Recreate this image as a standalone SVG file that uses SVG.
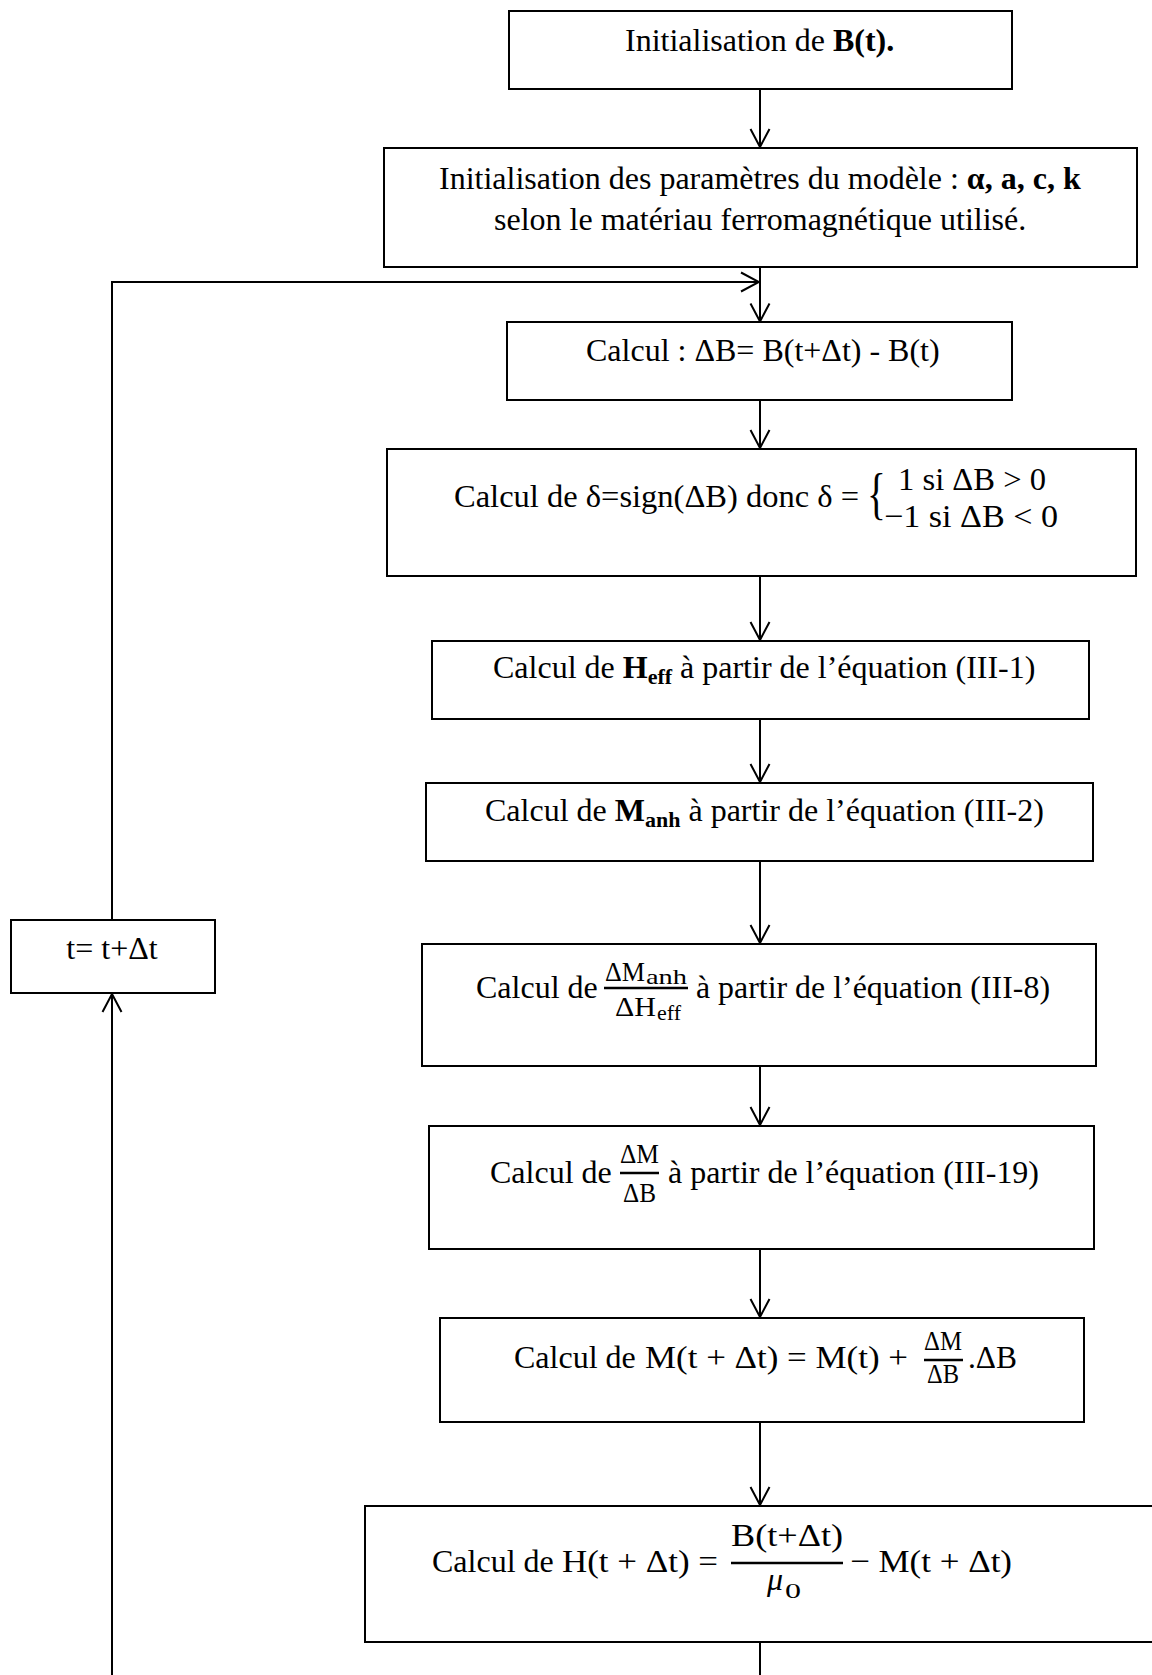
<svg xmlns="http://www.w3.org/2000/svg" width="1152" height="1675" viewBox="0 0 1152 1675">
  <style>
    .box { fill: #fff; stroke: #000; stroke-width: 2; }
    .ln { fill: none; stroke: #000; stroke-width: 2; }
    .bar { stroke: #000; stroke-width: 2.6; }
    text { font-family: "Liberation Serif", "Times New Roman", serif; font-size: 32px; fill: #000; }
    .b { font-weight: bold; }
    .num { font-size: 27px; }
    .sub { font-size: 22px; }
    .it { font-style: italic; }
    .brace { font-size: 56px; }
  </style>
  <defs>
    <marker id="arrow" markerUnits="userSpaceOnUse" viewBox="0 0 20 22" refX="19" refY="11" markerWidth="20" markerHeight="22" orient="auto">
      <path d="M1,1.5 L19,11 L1,20.5" fill="none" stroke="#000" stroke-width="2"/>
    </marker>
  </defs>

  <!-- connectors -->
  <g id="connectors">
    <path class="ln" d="M760,89 V147" marker-end="url(#arrow)"/>
    <path class="ln" d="M760,267 V321.5" marker-end="url(#arrow)"/>
    <path class="ln" d="M112,920 V282 H759" marker-end="url(#arrow)"/>
    <path class="ln" d="M760,400 V448" marker-end="url(#arrow)"/>
    <path class="ln" d="M760,576 V640" marker-end="url(#arrow)"/>
    <path class="ln" d="M760,719 V782" marker-end="url(#arrow)"/>
    <path class="ln" d="M760,861 V943" marker-end="url(#arrow)"/>
    <path class="ln" d="M760,1066 V1125" marker-end="url(#arrow)"/>
    <path class="ln" d="M760,1249 V1317" marker-end="url(#arrow)"/>
    <path class="ln" d="M760,1422 V1505" marker-end="url(#arrow)"/>
    <path class="ln" d="M760,1642 V1675"/>
    <path class="ln" d="M112,1675 V994" marker-end="url(#arrow)"/>
  </g>

  <!-- B(t) initialisation -->
  <g id="init-b">
    <rect class="box" x="509" y="11" width="503" height="78"/>
    <text x="625" y="51">Initialisation de <tspan class="b">B(t).</tspan></text>
  </g>

  <!-- model parameters -->
  <g id="init-params">
    <rect class="box" x="384" y="148" width="753" height="119"/>
    <text x="439" y="189">Initialisation des paramètres du modèle : <tspan class="b">α, a, c, k</tspan></text>
    <text x="494" y="230">selon le matériau ferromagnétique utilisé.</text>
  </g>

  <!-- delta B -->
  <g id="calc-db">
    <rect class="box" x="507" y="322" width="505" height="78"/>
    <text x="586" y="361">Calcul : ΔB= B(t+Δt) - B(t)</text>
  </g>

  <!-- sign of delta B -->
  <g id="calc-delta">
    <rect class="box" x="387" y="449" width="749" height="127"/>
    <text x="454" y="507" textLength="405" lengthAdjust="spacingAndGlyphs">Calcul de δ=sign(ΔB) donc δ =</text>
    <text class="brace" transform="translate(867,513) scale(0.7,1)">{</text>
    <text x="898" y="490" textLength="148" lengthAdjust="spacingAndGlyphs">1 si ΔB &gt; 0</text>
    <text x="884" y="527" textLength="174" lengthAdjust="spacingAndGlyphs">−1 si ΔB &lt; 0</text>
  </g>

  <!-- H_eff -->
  <g id="calc-heff">
    <rect class="box" x="432" y="641" width="657" height="78"/>
    <text x="493" y="678">Calcul de <tspan class="b">H</tspan><tspan class="b sub" dy="6">eff</tspan><tspan dy="-6"> à partir de l’équation (III-1)</tspan></text>
  </g>

  <!-- M_anh -->
  <g id="calc-manh">
    <rect class="box" x="426" y="783" width="667" height="78"/>
    <text x="485" y="821">Calcul de <tspan class="b">M</tspan><tspan class="b sub" dy="6">anh</tspan><tspan dy="-6"> à partir de l’équation (III-2)</tspan></text>
  </g>

  <!-- time step -->
  <g id="step-t">
    <rect class="box" x="11" y="920" width="204" height="73"/>
    <text x="112" y="959" text-anchor="middle">t= t+Δt</text>
  </g>

  <!-- dManh / dHeff -->
  <g id="calc-dmanh">
    <rect class="box" x="422" y="944" width="674" height="122"/>
    <text x="476" y="998">Calcul de</text>
    <text class="num" x="605" y="981" textLength="40" lengthAdjust="spacingAndGlyphs">ΔM</text>
    <text class="sub" x="646" y="984" textLength="41" lengthAdjust="spacingAndGlyphs">anh</text>
    <line class="bar" x1="604" y1="988" x2="688" y2="988"/>
    <text class="num" x="615" y="1016" textLength="41" lengthAdjust="spacingAndGlyphs">ΔH</text>
    <text class="sub" x="657" y="1020" textLength="24" lengthAdjust="spacingAndGlyphs">eff</text>
    <text x="696" y="998" textLength="354" lengthAdjust="spacingAndGlyphs">à partir de l’équation (III-8)</text>
  </g>

  <!-- dM / dB -->
  <g id="calc-dm">
    <rect class="box" x="429" y="1126" width="665" height="123"/>
    <text x="490" y="1183">Calcul de</text>
    <text class="num" x="620" y="1163" textLength="39" lengthAdjust="spacingAndGlyphs">ΔM</text>
    <line class="bar" x1="620" y1="1173" x2="659" y2="1173"/>
    <text class="num" x="623" y="1202" textLength="33" lengthAdjust="spacingAndGlyphs">ΔB</text>
    <text x="668" y="1183" textLength="371" lengthAdjust="spacingAndGlyphs">à partir de l’équation (III-19)</text>
  </g>

  <!-- M(t+dt) -->
  <g id="calc-m">
    <rect class="box" x="440" y="1318" width="644" height="104"/>
    <text x="514" y="1368">Calcul de</text>
    <text x="645" y="1368" textLength="263" lengthAdjust="spacingAndGlyphs">M(t + Δt) = M(t) +</text>
    <text class="num" x="924" y="1350" textLength="38" lengthAdjust="spacingAndGlyphs">ΔM</text>
    <line class="bar" x1="924" y1="1360" x2="963" y2="1360"/>
    <text class="num" x="927" y="1383" textLength="32" lengthAdjust="spacingAndGlyphs">ΔB</text>
    <text x="968" y="1368" textLength="49" lengthAdjust="spacingAndGlyphs">.ΔB</text>
  </g>

  <!-- H(t+dt) -->
  <g id="calc-h">
    <rect class="box" x="365" y="1506" width="800" height="136"/>
    <text x="432" y="1572">Calcul de</text>
    <text x="562" y="1572" textLength="156" lengthAdjust="spacingAndGlyphs">H(t + Δt) =</text>
    <text x="731" y="1546" textLength="112" lengthAdjust="spacingAndGlyphs">B(t+Δt)</text>
    <line class="bar" x1="731" y1="1563" x2="843" y2="1563"/>
    <text class="it" x="767" y="1590">μ</text>
    <text class="sub" x="785" y="1598" textLength="16" lengthAdjust="spacingAndGlyphs">0</text>
    <text x="850" y="1572" textLength="162" lengthAdjust="spacingAndGlyphs">− M(t + Δt)</text>
  </g>
</svg>
